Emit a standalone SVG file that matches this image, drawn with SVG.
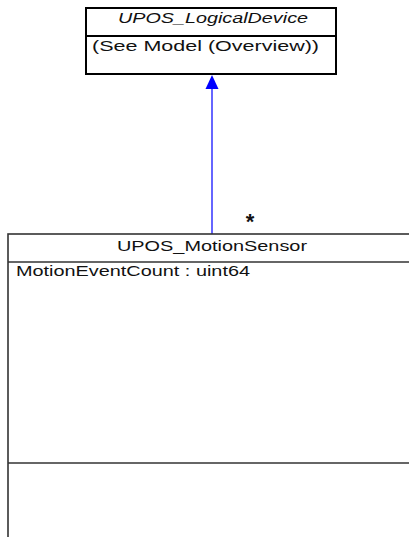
<svg xmlns="http://www.w3.org/2000/svg" width="409" height="537" viewBox="0 0 409 537">
<style>
.box{fill:#fff;stroke:#000;stroke-width:2}
.box2{fill:#fff;stroke:#333;stroke-width:1.6}
.div{stroke:#000;stroke-width:2}
.div2{stroke:#333;stroke-width:1.6}
text{font-family:"Liberation Sans",Arial,sans-serif;font-size:14px;fill:#111}
.conn{stroke:#3333ff;stroke-width:1.5;fill:none}
.head{fill:#0000ff}
</style>
<g id="connectors">
<line class="conn" x1="212" y1="234" x2="212" y2="88"/>
<polygon class="head" points="212,75 205.5,89 218.5,89"/>
<text x="250" y="229" text-anchor="middle" style="font-size:22px;font-weight:bold">*</text>
</g>
<g id="UPOS_LogicalDevice">
<rect class="box" x="86" y="8" width="250" height="66"/>
<line class="div" x1="86" y1="36" x2="336" y2="36"/>
<text x="118" y="23" textLength="190" lengthAdjust="spacingAndGlyphs" style="font-style:italic">UPOS_LogicalDevice</text>
<text x="92" y="51" textLength="227" lengthAdjust="spacingAndGlyphs">(See Model (Overview))</text>
</g>
<g id="UPOS_MotionSensor">
<rect class="box2" x="8" y="234" width="420" height="330"/>
<line class="div2" x1="8" y1="262" x2="428" y2="262"/>
<line class="div2" x1="8" y1="463" x2="428" y2="463"/>
<text x="117" y="251" textLength="190" lengthAdjust="spacingAndGlyphs">UPOS_MotionSensor</text>
<text x="16" y="276" textLength="234" lengthAdjust="spacingAndGlyphs">MotionEventCount : uint64</text>
</g>
</svg>
